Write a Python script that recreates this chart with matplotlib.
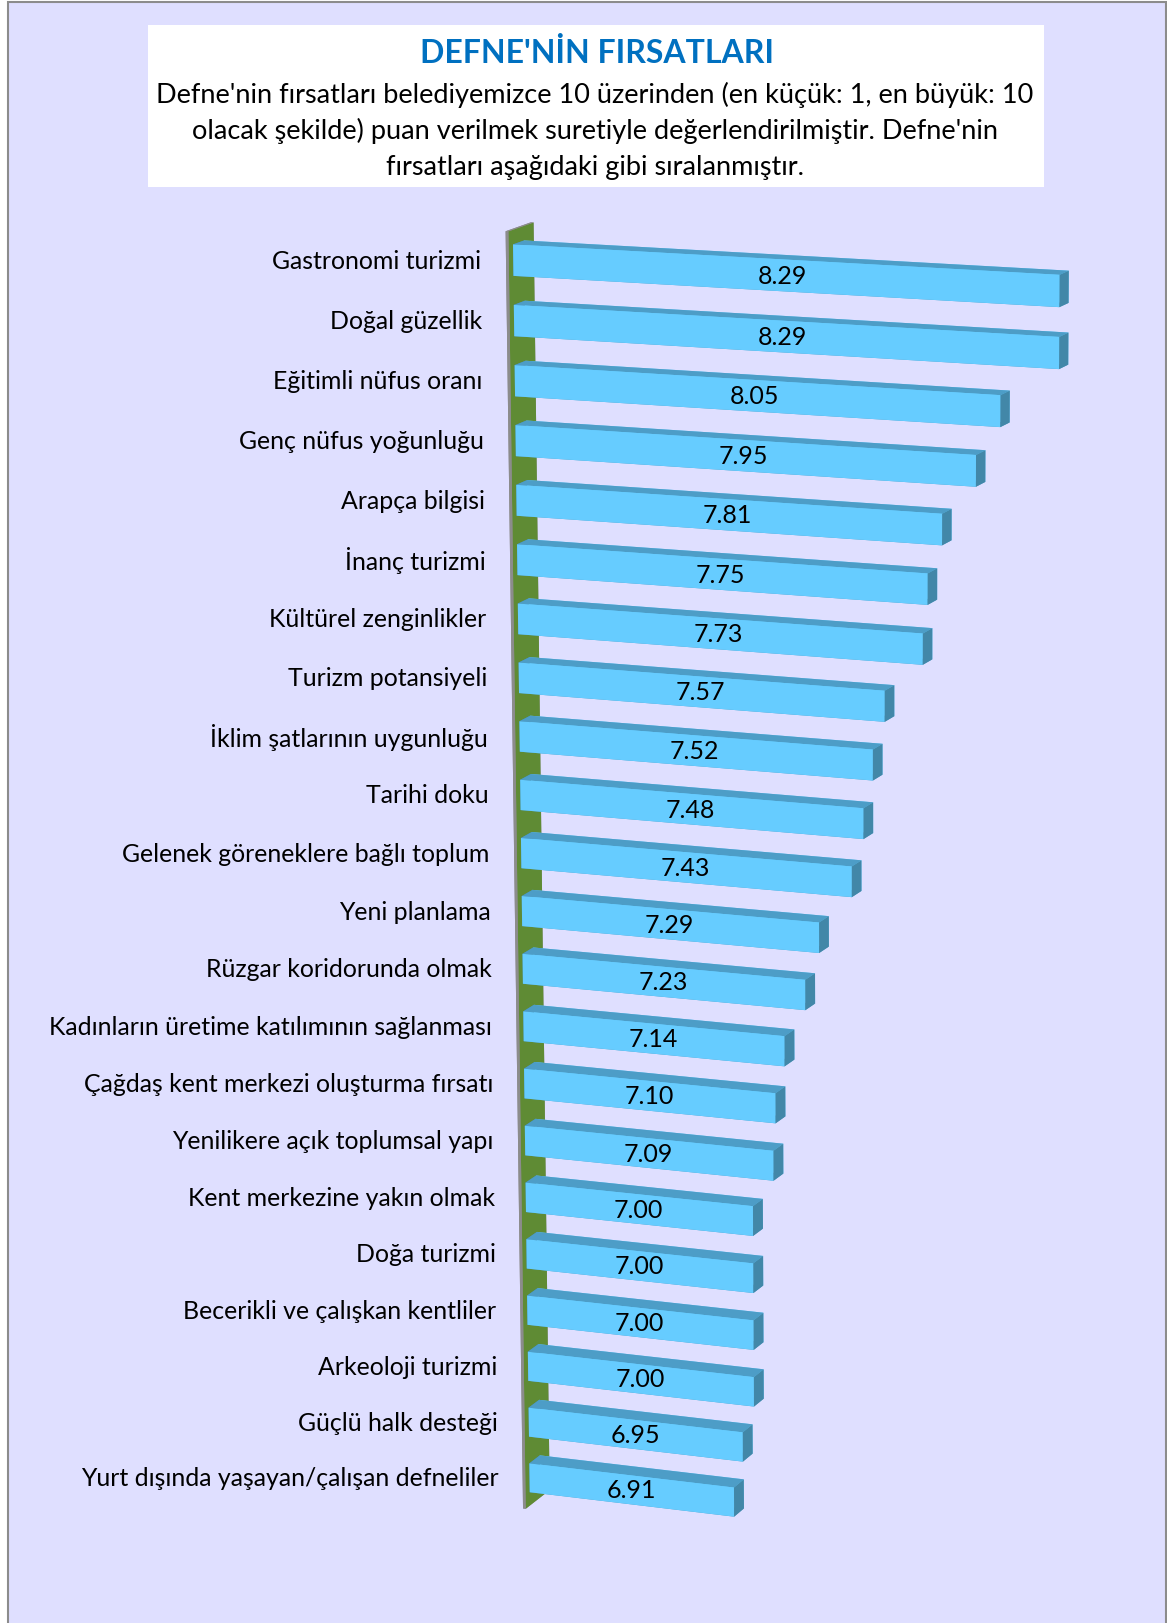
import numpy as np
import matplotlib
matplotlib.use("Agg")
import matplotlib.pyplot as plt
from matplotlib.patches import Rectangle
from mpl_toolkits.mplot3d import proj3d

# --- veriler ---
kategoriler = [
    "Gastronomi turizmi", "Doğal güzellik", "Eğitimli nüfus oranı",
    "Genç nüfus yoğunluğu", "Arapça bilgisi", "İnanç turizmi",
    "Kültürel zenginlikler", "Turizm potansiyeli", "İklim şatlarının uygunluğu",
    "Tarihi doku", "Gelenek göreneklere bağlı toplum", "Yeni planlama",
    "Rüzgar koridorunda olmak", "Kadınların üretime katılımının sağlanması",
    "Çağdaş kent merkezi oluşturma fırsatı", "Yenilikere açık toplumsal yapı",
    "Kent merkezine yakın olmak", "Doğa turizmi", "Becerikli ve çalışkan kentliler",
    "Arkeoloji turizmi", "Güçlü halk desteği", "Yurt dışında yaşayan/çalışan defneliler",
]
puanlar = [8.29, 8.29, 8.05, 7.95, 7.81, 7.75, 7.73, 7.57, 7.52, 7.48, 7.43,
           7.29, 7.23, 7.14, 7.10, 7.09, 7.00, 7.00, 7.00, 7.00, 6.95, 6.91]

baslik = "DEFNE'NİN FIRSATLARI"
aciklama = [
    "Defne'nin fırsatları belediyemizce 10 üzerinden (en küçük: 1, en büyük: 10",
    "olacak şekilde) puan verilmek suretiyle değerlendirilmiştir. Defne'nin",
    "fırsatları aşağıdaki gibi sıralanmıştır.",
]

plt.rcParams['font.family'] = ['Lato', 'DejaVu Sans']

W, H = 1167, 1624
EKSEN_MIN, EKSEN_MAX = 6.0, 9.2

fig = plt.figure(figsize=(W / 100, H / 100), dpi=100)
fig.patch.set_facecolor("white")

# grafik alanı zemini ve başlık kutusu
fig.patches.append(Rectangle((8 / W, -0.01), (1166 - 8) / W, (H - 3) / H + 0.01,
                             transform=fig.transFigure, facecolor="#DFDFFF",
                             edgecolor="#8C8C8C", linewidth=1.5, zorder=-2))
fig.patches.append(Rectangle((148 / W, 1 - 188 / H), (1044 - 148) / W, (188 - 26) / H,
                             transform=fig.transFigure, facecolor="white",
                             edgecolor="none", zorder=-1))
fig.text(597 / W, 1 - 53 / H, baslik, ha="center", va="center", fontsize=23,
         fontweight="bold", color="#0070C0")
for k, satir in enumerate(aciklama):
    fig.text(595 / W, 1 - (95 + 36 * k) / H, satir, ha="center", va="center",
             fontsize=19.5, color="black")

# 3B çubuk grafik (perspektif)
S = 1512
ax = fig.add_axes([122.6 / W, (H - 1687.5) / H, S / W, S / H], projection="3d",
                  computed_zorder=False)
ax.set_proj_type("persp", focal_length=0.859)
ax.view_init(elev=14, azim=-70)
n = len(puanlar)
ax.set_xlim(EKSEN_MIN, EKSEN_MAX)
ax.set_ylim(-0.4, 1.9)
ax.set_zlim(0, n)
ax.set_box_aspect((800, 64, 1332), zoom=1)
ax.set_axis_off()
ax.patch.set_alpha(0)

# sol duvar (yeşil)
gri, yesil = "#8C8C8C", "#5F8B34"
ax.bar3d(EKSEN_MIN - 0.012, -0.4, 0, 0.012, 2.3, n,
         color=[gri, gri, gri, gri, gri, yesil], shade=False, zorder=1)

# çubuklar: yüz sırası -z, +z, -y, +y, -x, +x
on, ust, yan = "#66CCFF", "#4D9DC7", "#4287A8"
deger = np.array(puanlar)
satir_alt = n - 1 - np.arange(n)
ax.bar3d(np.full(n, EKSEN_MIN), np.zeros(n), satir_alt + 0.24,
         deger - EKSEN_MIN, np.ones(n), np.full(n, 0.52),
         color=[ust, ust, on, on, yan, yan] * n, shade=False,
         edgecolor="none", zorder=2)

# etiketler: 3B konumlar eksenin izdüşümüyle 2B'ye çevrilir
M = ax.get_proj()
zc = satir_alt + 0.5
vx, vy, _ = proj3d.proj_transform((EKSEN_MIN + deger) / 2, np.zeros(n), zc, M)
kx, ky, _ = proj3d.proj_transform(np.full(n, EKSEN_MIN - 0.12), np.full(n, -0.4), zc, M)
for i, v in enumerate(puanlar):
    ax.text2D(vx[i], vy[i], f"{v:.2f}", transform=ax.transData,
              ha="center", va="center", fontsize=18, zorder=5)
    ax.text2D(kx[i], ky[i], kategoriler[i], transform=ax.transData,
              ha="right", va="center", fontsize=17.9, zorder=5)

fig.savefig("out.png", dpi=100)
